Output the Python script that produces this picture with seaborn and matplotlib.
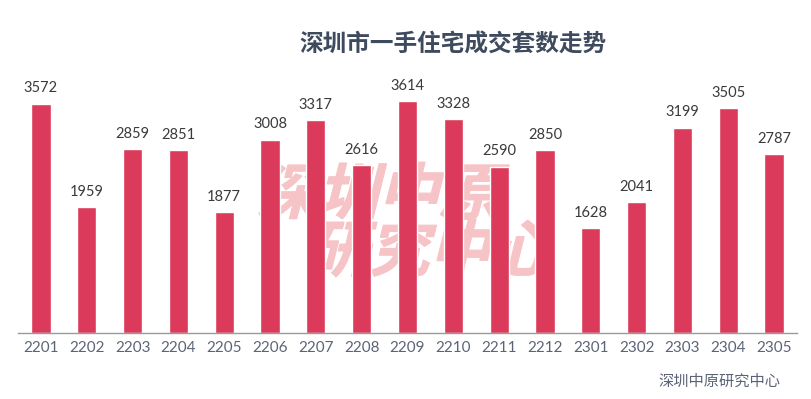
import numpy as np
import pandas as pd
import matplotlib.pyplot as plt
import seaborn as sns
from matplotlib.textpath import TextPath
from matplotlib.patches import PathPatch
from matplotlib.font_manager import FontProperties
from matplotlib.transforms import Affine2D, IdentityTransform

# Data
months = ['2201', '2202', '2203', '2204', '2205', '2206', '2207', '2208', '2209',
          '2210', '2211', '2212', '2301', '2302', '2303', '2304', '2305']
deals = [3572, 1959, 2859, 2851, 1877, 3008, 3317, 2616, 3614,
         3328, 2590, 2850, 1628, 2041, 3199, 3505, 2787]

title = '深圳市一手住宅成交套数走势'
source = '深圳中原研究中心'
watermark = ['深圳中原', '研究中心']

sns.set_style('white')
plt.rcParams['font.family'] = ['Lato', 'Noto Sans CJK SC', 'DejaVu Sans']

bar_color = '#DC3A5A'
text_gray = '#5B6477'

fig = plt.figure(figsize=(8.12, 3.99), dpi=100)
ax = fig.add_axes([18 / 812, 66 / 399, 779 / 812, 273 / 399])

df = pd.DataFrame({'month': months, 'deals': deals})
sns.barplot(data=df, x='month', y='deals', color=bar_color, width=0.42,
            saturation=1, ax=ax, zorder=2)

ax.set_xlim(-0.5, len(months) - 0.5)
ax.set_ylim(0, 4250)
ax.set_xlabel('')
ax.set_ylabel('')
ax.set_yticks([])

# labels centred, small ticks at category boundaries
ax.set_xticks(np.arange(len(months)))
ax.set_xticklabels(months, fontsize=11, color=text_gray)
ax.tick_params(axis='x', which='major', length=0, pad=6)
ax.set_xticks(np.arange(len(months) + 1) - 0.5, minor=True)
ax.tick_params(axis='x', which='minor', length=5, color='#9A9A9A', width=1)

for s in ['top', 'right', 'left']:
    ax.spines[s].set_visible(False)
ax.spines['bottom'].set_color('#9A9A9A')
ax.spines['bottom'].set_linewidth(1)

for i, v in enumerate(deals):
    ax.annotate(str(v), (i, v), xytext=(0, 6), textcoords='offset points',
                ha='center', va='bottom', fontsize=10.5, color='#3A3A3A')

fig.text(453 / 812, 1 - 45 / 399, title, ha='center', va='center',
         fontsize=17, fontweight='bold', color='#3E4A5E',
         family=['Noto Sans CJK SC'])
fig.text(780 / 812, 1 - 381 / 399, source, ha='right', va='center',
         fontsize=11, color=text_gray, family=['Noto Sans CJK SC'])

# heavy faux-italic watermark, behind the bars
fp = FontProperties(family='Noto Sans CJK SC', weight='bold')
for line, (px, py) in zip(watermark, [(256, 214), (307, 271)]):
    tp = TextPath((0, 0), line, size=61, prop=fp)
    tr = Affine2D().skew_deg(14, 0).translate(px, 399 - py)
    patch = PathPatch(tr.transform_path(tp), facecolor='#F6C4C7', edgecolor='#F6C4C7',
                      linewidth=0.8, joinstyle='miter', transform=IdentityTransform(),
                      clip_on=False, zorder=1)
    ax.add_patch(patch)

fig.savefig('out.png', dpi=100)
